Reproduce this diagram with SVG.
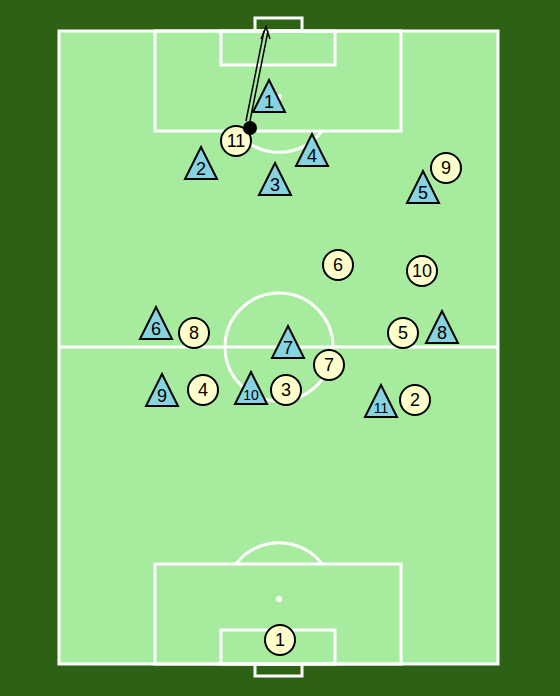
<svg xmlns="http://www.w3.org/2000/svg" width="560" height="696" viewBox="0 0 560 696">
<defs>
<style>
.line{fill:none;stroke:#ffffff;stroke-width:3}
.spot{fill:#ffffff}
.opp circle{fill:#ffffcc;stroke:#000;stroke-width:2}
.tri polygon{fill:#87d3e0;stroke:#000;stroke-width:2;stroke-linejoin:miter}
text{font-family:"Liberation Sans",Arial,sans-serif;fill:#000;text-anchor:middle}
.n{font-size:18px}
.s{font-size:14px}
</style>
</defs>
<rect x="0" y="0" width="560" height="696" fill="#2d6214"/>
<g id="pitch">
<rect x="59" y="31" width="439" height="633" fill="#a6eb9e"/>
<rect class="line" x="59" y="31" width="439" height="633"/>
<line class="line" x1="59" y1="347" x2="498" y2="347"/>
<circle class="line" cx="279" cy="347" r="54"/>
<rect class="line" x="155" y="31" width="246" height="100"/>
<rect class="line" x="221" y="31" width="114" height="34"/>
<rect class="line" x="255" y="18" width="47" height="13"/>
<path class="line" d="M236,131 A54,54 0 0 0 322,131"/>
<circle class="spot" cx="279" cy="97" r="3"/>
<rect class="line" x="155" y="564" width="246" height="100"/>
<rect class="line" x="221" y="630" width="114" height="34"/>
<rect class="line" x="255" y="664" width="47" height="12"/>
<path class="line" d="M236,564 A54,54 0 0 1 322,564"/>
<circle class="spot" cx="279" cy="599" r="3"/>
</g>
<g id="connectors">
<line x1="246" y1="121" x2="264" y2="31" stroke="#000" stroke-width="1.5"/>
<line x1="250" y1="121" x2="268" y2="31" stroke="#000" stroke-width="1.5"/>
<polyline points="261,39 266,27 270,39" fill="none" stroke="#000" stroke-width="1.5"/>
</g>
<g id="opp-11" class="opp"><circle cx="236" cy="141" r="15"/><text class="n" x="236" y="147">11</text></g>
<g id="ball"><circle cx="250" cy="128" r="7" fill="#000"/></g>
<g id="opp-9" class="opp"><circle cx="446" cy="168" r="15"/><text class="n" x="446" y="174">9</text></g>
<g id="opp-6" class="opp"><circle cx="338" cy="265" r="15"/><text class="n" x="338" y="271">6</text></g>
<g id="opp-10" class="opp"><circle cx="422" cy="271" r="15"/><text class="n" x="422" y="277">10</text></g>
<g id="opp-8" class="opp"><circle cx="194" cy="333" r="15"/><text class="n" x="194" y="339">8</text></g>
<g id="opp-5" class="opp"><circle cx="403" cy="333" r="15"/><text class="n" x="403" y="339">5</text></g>
<g id="opp-7" class="opp"><circle cx="329" cy="365" r="15"/><text class="n" x="329" y="371">7</text></g>
<g id="opp-4" class="opp"><circle cx="203" cy="390" r="15"/><text class="n" x="203" y="396">4</text></g>
<g id="opp-3" class="opp"><circle cx="286" cy="390" r="15"/><text class="n" x="286" y="396">3</text></g>
<g id="opp-2" class="opp"><circle cx="415" cy="400" r="15"/><text class="n" x="415" y="406">2</text></g>
<g id="opp-1" class="opp"><circle cx="280" cy="640" r="15"/><text class="n" x="280" y="646">1</text></g>
<g id="tri-1" class="tri"><polygon points="269,80 285,112 253,112"/><text class="n" x="269" y="108">1</text></g>
<g id="tri-2" class="tri"><polygon points="201,147 217,179 185,179"/><text class="n" x="201" y="175">2</text></g>
<g id="tri-3" class="tri"><polygon points="275,163 291,195 259,195"/><text class="n" x="275" y="191">3</text></g>
<g id="tri-4" class="tri"><polygon points="312,134 328,166 296,166"/><text class="n" x="312" y="162">4</text></g>
<g id="tri-5" class="tri"><polygon points="423,171 439,203 407,203"/><text class="n" x="423" y="199">5</text></g>
<g id="tri-6" class="tri"><polygon points="156,307 172,339 140,339"/><text class="n" x="156" y="335">6</text></g>
<g id="tri-7" class="tri"><polygon points="288,326 304,358 272,358"/><text class="n" x="288" y="354">7</text></g>
<g id="tri-8" class="tri"><polygon points="442,311 458,343 426,343"/><text class="n" x="442" y="339">8</text></g>
<g id="tri-9" class="tri"><polygon points="162,374 178,406 146,406"/><text class="n" x="162" y="402">9</text></g>
<g id="tri-10" class="tri"><polygon points="251,372 267,404 235,404"/><text class="s" x="251" y="400">10</text></g>
<g id="tri-11" class="tri"><polygon points="381,385 397,417 365,417"/><text class="s" x="381" y="413">11</text></g>
</svg>
